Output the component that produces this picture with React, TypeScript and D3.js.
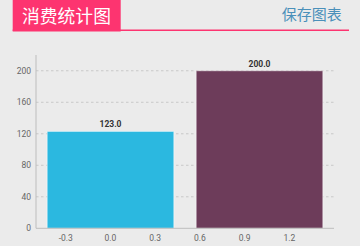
import React from "react";
import * as d3 from "d3";

const categories = [0, 1];
const values = [123, 200];
const barColors = ["#2bb8e0", "#6d3c5a"];
const yTicks = [0, 40, 80, 120, 160, 200];
const xTicks = [-0.3, 0.0, 0.3, 0.6, 0.9, 1.2];
const titleText = "消费统计图";
const saveText = "保存图表";

const W = 360;
const H = 246;

export default function App() {
  const x = d3.scaleLinear().domain([-0.5, 1.5]).range([36, 334]);
  const y = d3.scaleLinear().domain([0, 220]).range([228.3, 55]);
  const barW = 0.85;
  const cjk = "'Noto Sans CJK SC', 'Noto Sans', sans-serif";
  const num = "Roboto, 'Noto Sans', sans-serif";

  return (
    <div style={{ position: "absolute", left: 0, top: 0, width: W, height: H, background: "#ebebeb" }}>
      <svg width={W} height={H} style={{ display: "block" }}>
        <rect x={0} y={0} width={W} height={H} fill="#ebebeb" />
        {/* header */}
        <rect x={12.7} y={0} width={108} height={31.5} fill="#fd3470" />
        <rect x={12.7} y={29.5} width={336.3} height={1.5} fill="#fd3470" />
        <text x={22} y={22.5} fill="#ffffff" fontFamily={cjk} fontSize={17.8}>{titleText}</text>
        <text x={341.7} y={20} fill="#4a90ba" fontFamily={cjk} fontSize={15} textAnchor="end">{saveText}</text>

        {/* gridlines */}
        {yTicks.filter((t) => t > 0).map((t) => (
          <line key={"g" + t} x1={36} x2={334} y1={y(t)} y2={y(t)} stroke="#c8c8c8" strokeWidth={1} strokeDasharray="2.5,2.5" />
        ))}
        {/* bars */}
        {categories.map((c, i) => (
          <rect
            key={"b" + i}
            x={x(c - barW / 2)}
            y={y(values[i])}
            width={x(c + barW / 2) - x(c - barW / 2)}
            height={y(0) - y(values[i])}
            fill={barColors[i]}
            stroke="#ffffff"
            strokeOpacity={0.5}
            strokeWidth={1}
          />
        ))}
        {/* value labels */}
        {categories.map((c, i) => (
          <text key={"v" + i} x={x(c)} y={y(values[i]) - 4} textAnchor="middle" fontFamily={num} fontWeight="bold" fontSize={8.5} fill="#333">
            {values[i].toFixed(1)}
          </text>
        ))}
        {/* axes */}
        <line x1={36} x2={36} y1={55} y2={y(0)} stroke="#bdbdbd" strokeWidth={1} />
        <line x1={36} x2={334} y1={y(0)} y2={y(0)} stroke="#bdbdbd" strokeWidth={1} />
        {yTicks.map((t) => (
          <text key={"y" + t} x={31} y={y(t) + 3} textAnchor="end" fontFamily={num} fontSize={8.5} fill="#666">
            {t}
          </text>
        ))}
        {xTicks.map((t) => (
          <text key={"x" + t} x={x(t)} y={240.5} textAnchor="middle" fontFamily={num} fontSize={8.5} fill="#666">
            {t.toFixed(1)}
          </text>
        ))}
      </svg>
    </div>
  );
}
